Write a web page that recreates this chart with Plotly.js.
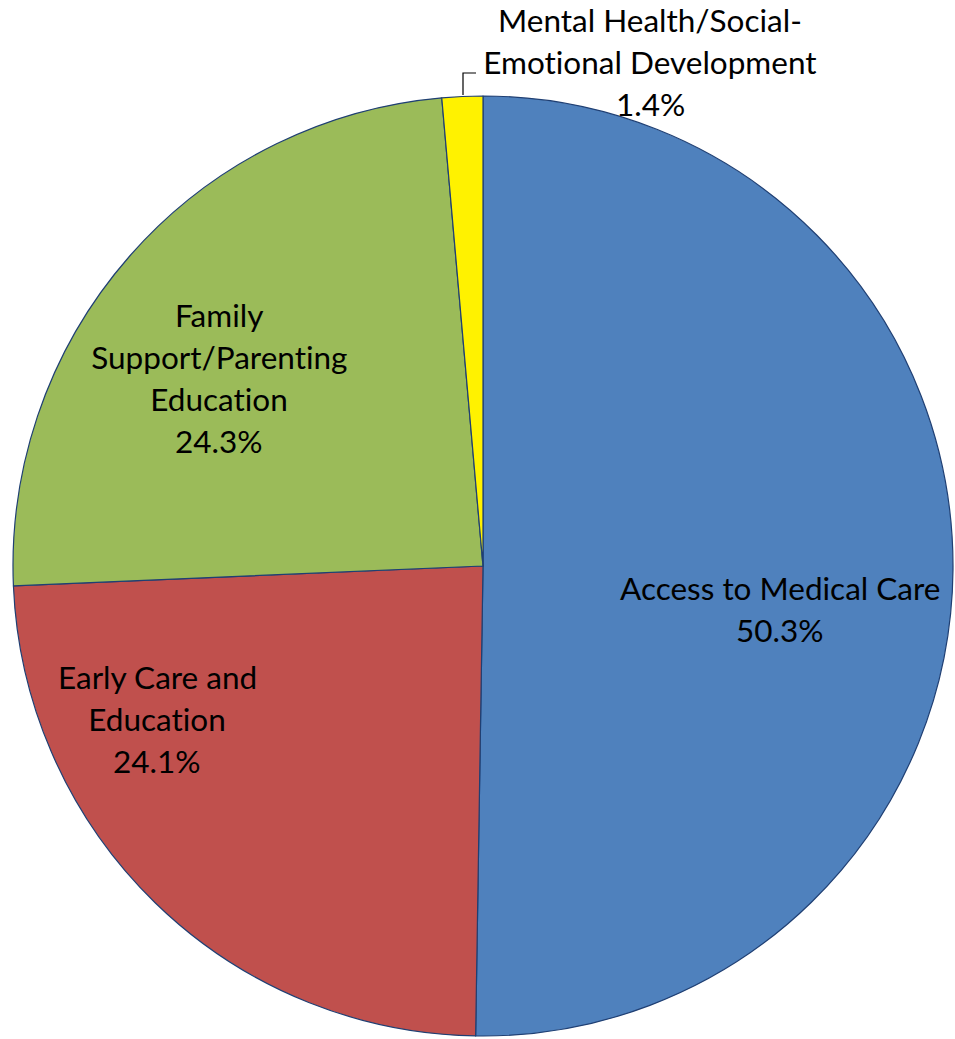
<!DOCTYPE html>
<html>
<head>
<meta charset="utf-8">
<script src="https://cdn.plot.ly/plotly-3.0.1.min.js"></script>
<style>html,body{margin:0;padding:0;background:#fff}#chart{width:955px;height:1039px}
#chart text{font-variant-ligatures:none;font-feature-settings:"liga" 0,"clig" 0,"dlig" 0}</style>
</head>
<body>
<div id="chart"></div>
<script>
var categories = ["Access to Medical Care", "Early Care and Education", "Family Support/Parenting Education", "Mental Health/Social-Emotional Development"];
var values = [50.3, 24.1, 24.3, 1.4];
var labelLines = [
  ["Access to Medical Care"],
  ["Early Care and", "Education"],
  ["Family", "Support/Parenting", "Education"],
  ["Mental Health/Social-", "Emotional Development"]
];
var colors = ["#4F81BD", "#C0504D", "#9BBB59", "#FFF200"];

var W = 955, H = 1039;
var cx = 483, cy = 566, R = 470;
// label anchor (pixel centre of first line), and line spacing
var labelPos = [[780, 588], [157, 677], [219, 315], [650, 20]];
var lineGap = 42;
var fontFam = "Lato, 'Open Sans', sans-serif";
var fs = 31.5;

var annotations = [];
for (var i = 0; i < categories.length; i++) {
  var lines = labelLines[i].concat([values[i].toFixed(1) + "%"]);
  for (var j = 0; j < lines.length; j++) {
    annotations.push({
      x: labelPos[i][0] / W, y: 1 - (labelPos[i][1] + j * lineGap) / H,
      xref: "paper", yref: "paper", xanchor: "center", yanchor: "middle",
      text: lines[j], showarrow: false,
      font: {family: fontFam, size: fs, color: "#000"}
    });
  }
}

var trace = {
  type: "pie",
  labels: categories,
  values: values,
  sort: false,
  direction: "clockwise",
  rotation: 0,
  textinfo: "none",
  hoverinfo: "label+percent",
  marker: {colors: colors, line: {color: "#1F3F73", width: 1.2}},
  domain: {x: [(cx - R) / W, (cx + R) / W], y: [1 - (cy + R) / H, 1 - (cy - R) / H]},
  showlegend: false
};

var layout = {
  width: W, height: H,
  margin: {l: 0, r: 0, t: 0, b: 0},
  paper_bgcolor: "#fff",
  showlegend: false,
  annotations: annotations,
  shapes: [{
    type: "path", xref: "paper", yref: "paper",
    path: "M " + (463 / W) + " " + (1 - 95 / H) + " L " + (463 / W) + " " + (1 - 73 / H) + " L " + (476 / W) + " " + (1 - 73 / H),
    line: {color: "#000", width: 1.2}
  }]
};

Plotly.newPlot("chart", [trace], layout, {staticPlot: true});
</script>
</body>
</html>
